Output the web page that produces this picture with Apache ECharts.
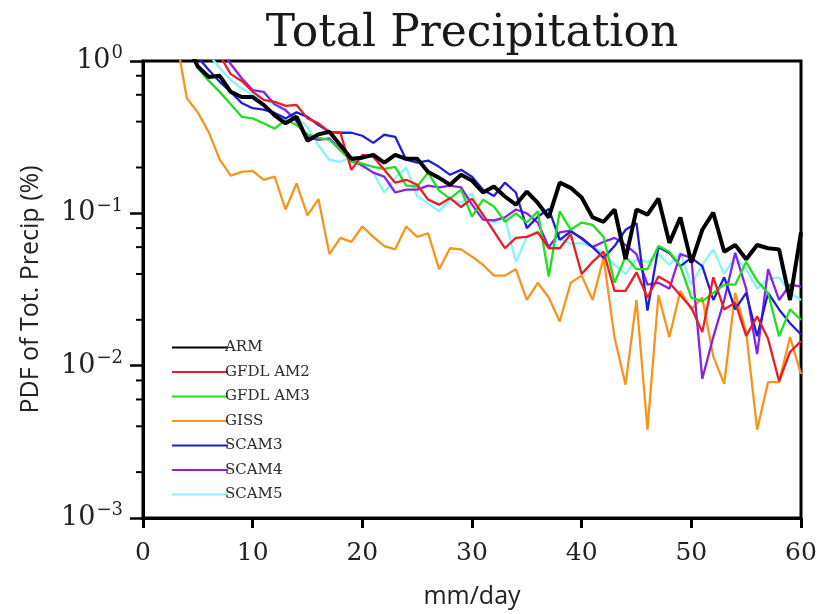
<!DOCTYPE html>
<html><head><meta charset="utf-8">
<script src="https://cdn.jsdelivr.net/npm/echarts@6/dist/echarts.min.js"></script>
<style>html,body{margin:0;padding:0;background:#fff}#c{width:821px;height:614px}</style>
</head><body><div id="c"></div>
<script>
const bins = [1,2,3,4,5,6,7,8,9,10,11,12,13,14,15,16,17,18,19,20,21,22,23,24,25,26,27,28,29,30,
  31,32,33,34,35,36,37,38,39,40,41,42,43,44,45,46,47,48,49,50,51,52,53,54,55,56,57,58,59,60];

const ARM = [null,null,null,1.3,0.92,0.786,0.8,0.627,0.58,0.58,
  0.515,0.44,0.39,0.43,0.3,0.33,0.343,0.28,0.228,0.232,
  0.242,0.215,0.242,0.228,0.228,0.187,0.171,0.154,0.179,0.164,
  0.137,0.15,0.129,0.114,0.139,0.117,0.094,0.159,0.147,0.127,
  0.094,0.088,0.106,0.05,0.106,0.098,0.125,0.064,0.094,0.0475,
  0.078,0.101,0.056,0.062,0.05,0.062,0.059,0.058,0.027,0.075];

const GFDL_AM2 = [null,null,null,null,null,null,1.09,0.82,0.74,0.63,
  0.555,0.54,0.507,0.515,0.42,0.39,0.343,0.338,0.193,0.242,
  0.235,0.193,0.159,0.166,0.154,0.123,0.114,0.126,0.11,0.125,
  0.098,0.076,0.059,0.069,0.07,0.075,0.059,0.059,0.073,0.04,
  0.048,0.056,0.031,0.031,0.041,0.028,0.0385,0.035,0.029,0.024,
  0.0166,0.038,0.0234,0.026,0.0157,0.021,0.015,0.0079,0.0123,0.0145];

const GFDL_AM3 = [null,null,null,1.28,0.9,0.74,0.627,0.52,0.43,0.42,
  0.39,0.36,0.41,0.38,0.33,0.313,0.304,0.26,0.218,0.212,
  0.202,0.196,0.202,0.152,0.15,0.185,0.141,0.125,0.143,0.095,
  0.123,0.111,0.088,0.1,0.087,0.103,0.0385,0.103,0.078,0.087,
  0.084,0.07,0.035,0.052,0.043,0.043,0.061,0.056,0.045,0.028,
  0.0265,0.03,0.034,0.034,0.048,0.036,0.03,0.0156,0.0234,0.02];

const GISS = [null,null,1.45,0.57,0.46,0.34,0.225,0.177,0.187,0.19,
  0.166,0.174,0.106,0.157,0.097,0.124,0.054,0.069,0.065,0.082,
  0.07,0.061,0.058,0.082,0.07,0.074,0.043,0.059,0.058,0.052,
  0.046,0.039,0.039,0.043,0.027,0.035,0.028,0.0195,0.035,0.039,
  0.027,0.051,0.0153,0.0075,0.027,0.0038,0.029,0.0154,0.031,0.0234,
  0.028,0.0115,0.0076,0.03,0.0166,0.0038,0.0078,0.0078,0.0154,0.0088];

const SCAM3 = [null,null,null,null,1.06,0.873,0.73,0.627,0.53,0.49,
  0.48,0.456,0.42,0.46,0.43,0.38,0.343,0.338,0.338,0.323,
  0.29,0.328,0.318,0.225,0.215,0.222,0.202,0.179,0.193,0.174,
  0.143,0.13,0.159,0.137,0.08,0.095,0.107,0.067,0.076,0.069,
  0.06,0.051,0.061,0.078,0.086,0.023,0.06,0.055,0.045,0.051,
  0.045,0.027,0.038,0.0234,0.03,0.0156,0.03,0.0234,0.019,0.016];

const SCAM4 = [null,null,null,null,null,null,1.2,0.956,0.77,0.645,
  0.627,0.52,0.477,0.4,0.318,0.304,0.31,0.26,0.224,0.205,
  0.185,0.174,0.137,0.143,0.143,0.152,0.148,0.152,0.148,0.114,
  0.091,0.09,0.094,0.106,0.1,0.087,0.06,0.075,0.077,0.068,
  0.06,0.065,0.069,0.062,0.054,0.034,0.035,0.032,0.054,0.051,
  0.0082,0.0154,0.027,0.055,0.032,0.0119,0.043,0.027,0.034,0.033];

const SCAM5 = [null,null,null,null,null,1.1,0.9,0.75,0.66,0.6,
  0.56,0.52,0.47,0.43,0.37,0.28,0.224,0.218,0.235,0.21,
  0.185,0.137,0.171,0.2,0.13,0.116,0.103,0.123,0.117,0.135,
  0.094,0.087,0.094,0.048,0.07,0.076,0.06,0.069,0.063,0.064,
  0.06,0.055,0.046,0.04,0.05,0.048,0.054,0.046,0.055,0.034,
  0.046,0.058,0.04,0.052,0.043,0.032,0.037,0.038,0.03,0.027];

const xTicks = [0,10,20,30,40,50,60];
const minorTickValues = [0.002,0.004,0.006,0.008,0.02,0.04,0.06,0.08,0.2,0.4,0.6,0.8];

const seriesDefs = [
  {name:'GISS', data:GISS, color:'#f7941d', width:2.3},
  {name:'SCAM5', data:SCAM5, color:'#86f3ff', width:2.3},
  {name:'SCAM4', data:SCAM4, color:'#8a22e6', width:2.3},
  {name:'SCAM3', data:SCAM3, color:'#1e1ed6', width:2.3},
  {name:'GFDL AM3', data:GFDL_AM3, color:'#1fe01f', width:2.3},
  {name:'GFDL AM2', data:GFDL_AM2, color:'#ec1c24', width:2.3},
  {name:'ARM', data:ARM, color:'#000000', width:4}
];
const legendOrder = ['ARM','GFDL AM2','GFDL AM3','GISS','SCAM3','SCAM4','SCAM5'];

const chart = echarts.init(document.getElementById('c'), null, {renderer:'canvas'});
const series = seriesDefs.map((d, k) => ({
  name: d.name, type: 'line', symbol: 'none', clip: true, z: 2 + k,
  data: bins.map((x, i) => [x, d.data[i]]),
  lineStyle: {color: d.color, width: d.width},
  itemStyle: {color: d.color},
  animation: false
}));
series.push({
  type: 'custom', silent: true, clip: false, z: 10, animation: false,
  encode: {x: 0, y: 1},
  data: minorTickValues.map(v => [0, v]),
  renderItem: function (params, api) {
    const p = api.coord([api.value(0), api.value(1)]);
    return {type: 'line', shape: {x1: p[0] - 7, y1: p[1], x2: p[0], y2: p[1]},
      style: {stroke: '#000', lineWidth: 2}};
  }
});

chart.setOption({
  backgroundColor: '#fff',
  animation: false,
  title: {
    text: 'Total Precipitation', left: 467, textAlign: 'center', top: 8,
    textStyle: {fontFamily: 'DejaVu Serif', fontSize: 44, fontWeight: 'normal', color: '#1a1a1a'}
  },
  grid: {left: 143, right: 20, top: 61, bottom: 95, show: true, borderColor: '#000', borderWidth: 3, backgroundColor: 'transparent'},
  legend: {
    data: legendOrder, orient: 'vertical', left: 167, top: 335, itemWidth: 56, itemHeight: 2, itemGap: 9.5,
    icon: 'rect',
    textStyle: {fontFamily: 'DejaVu Serif', fontSize: 15, color: '#2a2a2a', padding: [0,0,0,-8]},
    selectedMode: false
  },
  xAxis: {
    type: 'value', min: 0, max: 60, interval: 10,
    name: 'mm/day', nameLocation: 'middle', nameGap: 66,
    nameTextStyle: {fontFamily: 'Open Sans', fontSize: 25, color: '#222'},
    axisLine: {show: true, lineStyle: {color: '#000', width: 3}},
    axisTick: {show: true, length: 10, lineStyle: {color: '#000', width: 3}},
    axisLabel: {margin: 23, fontFamily: 'DejaVu Serif', fontSize: 25, color: '#222',
      formatter: v => xTicks.indexOf(v) >= 0 ? String(v) : ''},
    splitLine: {show: false}
  },
  yAxis: {
    type: 'log', logBase: 10, min: 0.001, max: 1,
    name: 'PDF of Tot. Precip (%)', nameLocation: 'middle', nameGap: 100,
    nameTextStyle: {fontFamily: 'Open Sans', fontSize: 25, color: '#222'},
    axisLine: {show: true, lineStyle: {color: '#000', width: 3}},
    axisTick: {show: true, length: 13, lineStyle: {color: '#000', width: 2.5}},
    axisLabel: {
      margin: 20,
      formatter: function (v) {
        const e = Math.round(Math.log10(v));
        return '{b|10}{s|' + (e < 0 ? '\u2212' + (-e) : e) + '}';
      },
      rich: {
        b: {fontFamily: 'DejaVu Serif', fontSize: 27, color: '#222'},
        s: {fontFamily: 'DejaVu Serif', fontSize: 18, color: '#222', padding: [0, 0, 15, 1]}
      }
    },
    splitLine: {show: false}
  },
  series: series
});
</script>
</body></html>
